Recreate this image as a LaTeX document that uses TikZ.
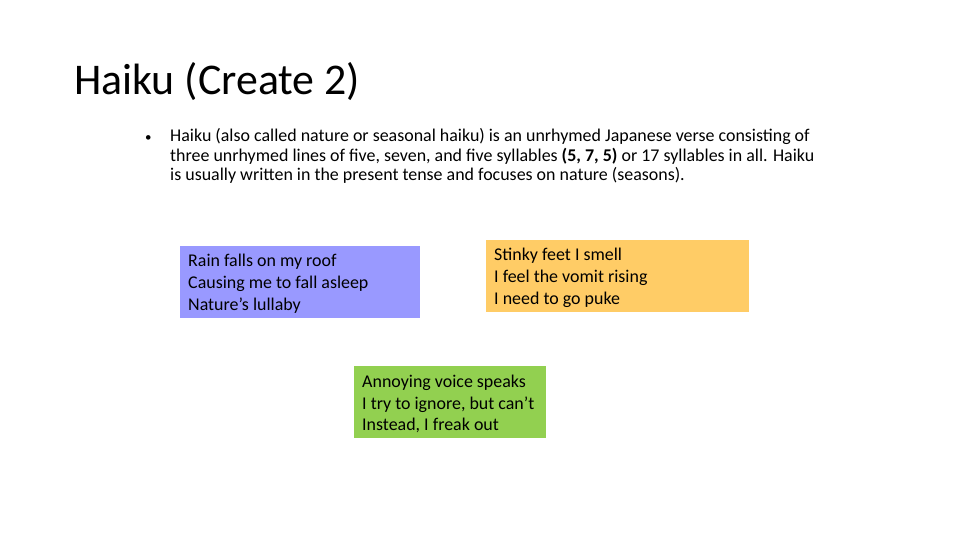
\documentclass[tikz,border=0pt]{standalone}
\usepackage{fontspec}
\setmainfont{Carlito}
\definecolor{boxblue}{HTML}{9999FF}
\definecolor{boxorange}{HTML}{FFCC66}
\definecolor{boxgreen}{HTML}{92D050}
\begin{document}
\begin{tikzpicture}[x=1bp,y=1bp,
  haiku/.style={anchor=west, inner xsep=8bp, inner ysep=0bp, align=left,
    font=\fontsize{18}{22}\selectfont}]
\useasboundingbox[fill=white] (0,0) rectangle (960,540);
\node[anchor=base west, inner sep=0, font=\fontsize{44}{50}\selectfont] (title) at (74,445) {Haiku (Create 2)};
\node[anchor=base west, inner sep=0, font=\fontsize{13}{19.5}\selectfont] (bullet) at (145,398) {•};
\node[anchor=base west, inner sep=0, align=left, font=\fontsize{18}{19.6}\selectfont] (body) at (170,359)
 {Haiku (also called nature or seasonal haiku) is an unrhymed Japanese verse consisting of\\
  three unrhymed lines of five, seven, and five syllables \textbf{(5, 7, 5)} or 17 syllables in all. Haiku\\
  is usually written in the present tense and focuses on nature (seasons).};
\fill[boxblue] (180,294) rectangle (420,222);
\fill[boxorange] (486,300) rectangle (749,228);
\fill[boxgreen] (354,174) rectangle (546,102);
\node[haiku] (rain) at (180,256) {Rain falls on my roof\\Causing me to fall asleep\\Nature’s lullaby};
\node[haiku] (stinky) at (486,262) {Stinky feet I smell\\I feel the vomit rising\\I need to go puke};
\node[haiku] (annoy) at (354,136) {Annoying voice speaks\\I try to ignore, but can’t\\Instead, I freak out};
\end{tikzpicture}
\end{document}
